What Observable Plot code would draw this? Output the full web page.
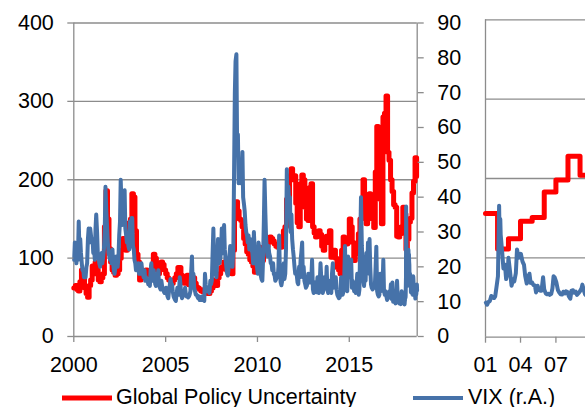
<!DOCTYPE html>
<html><head><meta charset="utf-8">
<script src="https://cdn.jsdelivr.net/npm/d3@7"></script>
<script src="https://cdn.jsdelivr.net/npm/@observablehq/plot@0.6"></script>
<style>
html,body{margin:0;padding:0;background:#fff;}
#wrap{position:relative;width:585px;height:407px;overflow:hidden;background:#fff;}
#wrap svg{position:absolute;left:0;max-width:none !important;}
</style></head><body><div id="wrap"></div>
<script>
// ---------- data ----------
// Global Policy Uncertainty, monthly from Jan 2000 (left axis)
const gpu2000to2017 = [
  62, 65, 60, 58, 70, 85, 75, 62, 55, 50, 65, 72,        // 2000
  90, 80, 95, 85, 72, 70, 75, 80, 140, 186, 150, 112,    // 2001
  95, 85, 82, 78, 80, 85, 100, 110, 125, 120, 110, 130,  // 2002
  145, 150, 182, 178, 135, 105, 95, 72, 75, 78, 80, 85,  // 2003
  80, 78, 82, 90, 105, 100, 85, 80, 88, 95, 92, 85,      // 2004
  80, 75, 72, 70, 68, 72, 75, 80, 88, 88, 78, 72,        // 2005
  68, 72, 78, 66, 70, 72, 75, 68, 63, 62, 60, 58,        // 2006
  57, 60, 58, 55, 55, 58, 62, 72, 68, 65, 75, 80,        // 2007
  88, 86, 95, 90, 84, 85, 82, 80, 110, 165, 172, 160,    // 2008
  150, 148, 140, 125, 118, 108, 105, 98, 95, 90, 82, 85, // 2009
  105, 114, 100, 97, 110, 106, 115, 120, 127, 125, 122, 118, // 2010
  115, 114, 118, 114, 120, 135, 140, 175, 165, 205, 214, 200, // 2011
  205, 170, 145, 140, 195, 206, 200, 165, 150, 148, 190, 195, // 2012
  140, 132, 127, 128, 135, 130, 115, 110, 120, 128, 120, 135, // 2013
  101, 105, 110, 100, 88, 85, 80, 110, 127, 120, 118, 125,    // 2014
  150, 140, 120, 97, 105, 112, 131, 150, 165, 200, 170, 144,  // 2015
  165, 182, 160, 150, 139, 210, 268, 240, 175, 144, 280, 285, // 2016
  307, 235, 225, 200, 185, 168, 165, 128, 127, 131, 140, 165  // 2017
];
const gpu2018 = [156, 111, 124, 146, 151, 183, 198, 228, 204]; // Jan..Sep 2018

// VIX, two readings per month (around the 8th and 22nd), 2000-2017 (right axis)
const vix2000to2017 = [
  22,27, 24,21, 26,22, 33,25, 28,24, 21,19, 19,17, 18,17, 20,21, 28,31, 27,31, 29,27,
  28,24, 25,22, 31,35, 30,24, 23,21, 20,22, 24,21, 23,25, 31,43, 36,32, 27,24, 23,22,
  24,21, 25,21, 19,18, 20,23, 21,20, 23,29, 33,45, 37,32, 35,40, 42,31, 29,27, 28,26,
  25,33, 31,34, 34,26, 25,22, 21,19, 20,19, 21,18, 20,18, 21,19, 18,17, 19,16, 17,16,
  16,15, 16,14.5, 19,21, 16,17, 19,17, 15,14.5, 16,17, 19,15, 14,13.5, 16,14.5, 13.5,13, 12.5,13,
  14,12.5, 11.5,11, 13,14.5, 16.5,15, 15,13, 11.5,11, 10.5,10.2, 12.5,14, 12.5,12, 17,15, 12,11, 11.5,12,
  12,14, 12,11.5, 11.5,11.2, 11.5,12, 13,18, 23,15, 18,14, 13,12, 12,11.5, 11,11.5, 10.5,10.8, 10.5,11.5,
  10.5,11, 10.2,18, 15,13, 13,14, 13,12.5, 16,15, 16,23, 31,22, 25,18, 17,22, 28,23, 21,22.5,
  24,31, 26,24, 32,25, 22,20, 18,17.5, 20,23, 26,23, 21,20, 25,46, 70,79, 81,55, 58,44,
  50,44, 48,46, 53,40, 38,36, 32,30, 29,27, 29,25, 28,25, 25,24, 21,30, 24,22, 21,20,
  18,27, 25,20, 17.5,16.5, 16,22, 33,45, 35,28, 25,23, 26,24, 23,21, 21,19, 21,18, 17.5,16,
  16.5,18, 17,20, 29,19, 15.5,14.7, 16,18, 21,16.5, 18,25, 48,36, 43,38, 40,30, 35,28, 25,23,
  20,18, 18,17.5, 15.5,15, 20,17, 22,24, 27,17, 20,16, 15,14, 14.5,15.5, 18,17, 18,15.5, 17,22,
  13.5,12.5, 15,15.5, 14,12.7, 17,13.5, 12.5,15, 21,17, 14,12.5, 13.5,17, 16.5,14, 20,13.5, 12.5,13, 16,13.8,
  12.5,18, 21,14, 17,15, 17,13.5, 12,11.5, 11,11.2, 12,17, 15,12, 13,16, 26,15, 13.5,13, 23,19,
  20,17, 22,14, 16,15, 13,14, 12.5,13.5, 18,14, 12,13.5, 28,40, 26,22, 16,14.5, 18,16, 24,18,
  27,22, 28,20, 15,14, 13.5,15, 15,14, 20,25.8, 13,12, 11.5,12, 18,13, 16,14, 22,13, 12,13,
  11.5,10.5, 11,11.5, 13,11.5, 15,10.8, 15.5,10, 11,10.5, 9.5,10, 16,11, 12,9.5, 10,9.3, 13,10.5, 10,11
];
// VIX 2018, denser readings
const vix2018Dates = [
  "2018-01-02","2018-01-05","2018-01-09","2018-01-12","2018-01-16","2018-01-19","2018-01-23","2018-01-26","2018-01-30",
  "2018-02-02","2018-02-05","2018-02-06","2018-02-08","2018-02-09","2018-02-13","2018-02-16","2018-02-20","2018-02-23","2018-02-27",
  "2018-03-01","2018-03-05","2018-03-09","2018-03-13","2018-03-16","2018-03-20","2018-03-23","2018-03-27",
  "2018-04-02","2018-04-06","2018-04-10","2018-04-13","2018-04-17","2018-04-20","2018-04-24","2018-04-27",
  "2018-05-01","2018-05-04","2018-05-08","2018-05-11","2018-05-15","2018-05-18","2018-05-22","2018-05-25","2018-05-29",
  "2018-06-01","2018-06-05","2018-06-08","2018-06-12","2018-06-15","2018-06-19","2018-06-22","2018-06-25","2018-06-28",
  "2018-07-02","2018-07-06","2018-07-10","2018-07-13","2018-07-17","2018-07-20","2018-07-24","2018-07-27","2018-07-31",
  "2018-08-03","2018-08-07","2018-08-10","2018-08-14","2018-08-17","2018-08-21","2018-08-24","2018-08-28","2018-08-31",
  "2018-09-05","2018-09-07","2018-09-11","2018-09-14","2018-09-18","2018-09-21","2018-09-25","2018-09-28"
];
const vix2018 = [
  9.8, 9.2, 10.1, 10.2, 11.7, 11.3, 11.1, 11.6, 14.8,
  17.3, 37.3, 29.9, 33.5, 29.1, 24.0, 19.5, 20.6, 16.5, 18.6,
  22.5, 18.7, 14.6, 16.4, 15.8, 18.2, 24.9, 22.5,
  23.6, 21.5, 20.5, 17.4, 15.2, 16.9, 18.0, 15.4,
  15.5, 14.8, 14.7, 12.7, 14.6, 13.4, 13.2, 13.2, 17.0,
  13.5, 12.4, 12.2, 12.3, 12.0, 12.3, 13.8, 17.3, 16.9,
  15.6, 13.4, 12.6, 12.2, 12.1, 12.9, 12.4, 13.0, 12.8,
  11.6, 10.9, 13.2, 13.3, 12.6, 12.9, 12.0, 12.5, 12.9,
  13.9, 14.9, 13.2, 12.1, 11.8, 11.7, 12.4, 12.1
];
const leftTicks = [0, 100, 200, 300, 400];
const rightTicks = [0, 10, 20, 30, 40, 50, 60, 70, 80, 90];
const yearTicks = [2000, 2005, 2010, 2015];
const monthTicks = [0, 3, 6]; // Jan, Apr, Jul 2018

// ---------- build tables ----------
const toLeft = v => v * 400 / 90;
const gpuAll = [...gpu2000to2017, ...gpu2018];
const gpuRows = gpuAll.map((v, i) => ({date: new Date(Date.UTC(2000, i, 1)), v}));
const mainEnd = new Date(Date.UTC(2018, 8, 13));
const mainStart = new Date(Date.UTC(2000, 0, 1));
const vixRows = vix2000to2017.map((v, i) => ({
  date: new Date(Date.UTC(2000, Math.floor(i / 2), i % 2 === 0 ? 8 : 22)), v: toLeft(v)
}));
const vix2018Rows = vix2018Dates.map((d, i) => ({date: new Date(d), v: toLeft(vix2018[i])}));
const vixMain = [...vixRows, ...vix2018Rows.filter(d => d.date <= mainEnd)];
const gpuPanel = [...gpu2018, gpu2018[gpu2018.length - 1]].map((v, i) => ({date: new Date(Date.UTC(2018, i, 1)), v}));

const gray = "#8c8c8c";
const red = "#ff0000";
const blue = "#4672a9";
const font = "'Liberation Sans', Arial, sans-serif";
const fs = "21.5px";
const baseStyle = {background: "transparent", fontFamily: font, fontSize: fs, color: "#000", overflow: "visible", maxWidth: "none"};

const wrap = document.getElementById("wrap");

// ---------- main panel ----------
const main = Plot.plot({
  width: 585, height: 380,
  marginLeft: 73.3, marginRight: 168.3, marginTop: 22.5, marginBottom: 44,
  style: baseStyle,
  x: {type: "utc", domain: [mainStart, mainEnd]},
  y: {domain: [0, 400], label: null},
  marks: [
    Plot.ruleY(leftTicks, {stroke: gray, strokeWidth: 1.3}),
    Plot.ruleX([mainStart, mainEnd], {stroke: gray, strokeWidth: 1.3}),
    Plot.line(gpuRows, {x: "date", y: "v", stroke: red, strokeWidth: 5, curve: "step-after"}),
    Plot.line(vixMain, {x: "date", y: "v", stroke: blue, strokeWidth: 4}),
    Plot.axisY({ticks: leftTicks, anchor: "left", tickSize: 6, tickPadding: 14, stroke: gray, strokeWidth: 1.3, fill: "#000", label: null}),
    Plot.axisY({ticks: rightTicks.map(toLeft), anchor: "right", tickSize: 6, tickPadding: 14,
      tickFormat: d => String(Math.round(d * 90 / 400)), stroke: gray, strokeWidth: 1.3, fill: "#000", label: null}),
    Plot.axisX({ticks: yearTicks.map(y => new Date(Date.UTC(y, 0, 1))), tickFormat: d3.utcFormat("%Y"),
      tickSize: 6, tickPadding: 14, stroke: gray, strokeWidth: 1.3, fill: "#000", label: null})
  ]
});
main.style.top = "0px";
wrap.appendChild(main);

// ---------- 2018 panel ----------
const p2Start = new Date(Date.UTC(2018, 0, 1));
const p2End = new Date(Date.UTC(2019, 0, 1));
const panel = Plot.plot({
  width: 700, height: 380,
  marginLeft: 485, marginRight: 73, marginTop: 19.3, marginBottom: 43.3,
  style: baseStyle,
  x: {type: "utc", domain: [p2Start, p2End]},
  y: {domain: [0, 400], label: null, axis: null},
  marks: [
    Plot.ruleY(leftTicks, {stroke: gray, strokeWidth: 1.3}),
    Plot.ruleX([p2Start], {stroke: gray, strokeWidth: 1.3}),
    Plot.line(gpuPanel, {x: "date", y: "v", stroke: red, strokeWidth: 5, curve: "step-after"}),
    Plot.line(vix2018Rows, {x: "date", y: "v", stroke: blue, strokeWidth: 4}),
    Plot.axisX({ticks: monthTicks.map(m => new Date(Date.UTC(2018, m, 1))), tickFormat: d3.utcFormat("%m"),
      tickSize: 6, tickPadding: 14, stroke: gray, strokeWidth: 1.3, fill: "#000", label: null})
  ]
});
panel.style.top = "0px";
wrap.appendChild(panel);

// ---------- legend ----------
const leg = d3.create("svg").attr("width", 585).attr("height", 27)
  .style("top", "380px").style("font-family", font).style("font-size", fs);
const items = [
  {label: "Global Policy Uncertainty", color: red, w: 5, x0: 62, x1: 112, tx: 116},
  {label: "VIX (r.A.)", color: blue, w: 4, x0: 413, x1: 463, tx: 468}
];
for (const it of items) {
  leg.append("line").attr("x1", it.x0).attr("x2", it.x1).attr("y1", 18).attr("y2", 18)
    .attr("stroke", it.color).attr("stroke-width", it.w);
  leg.append("text").attr("x", it.tx).attr("y", 24).attr("fill", "#000").text(it.label);
}
wrap.appendChild(leg.node());
</script></body></html>
